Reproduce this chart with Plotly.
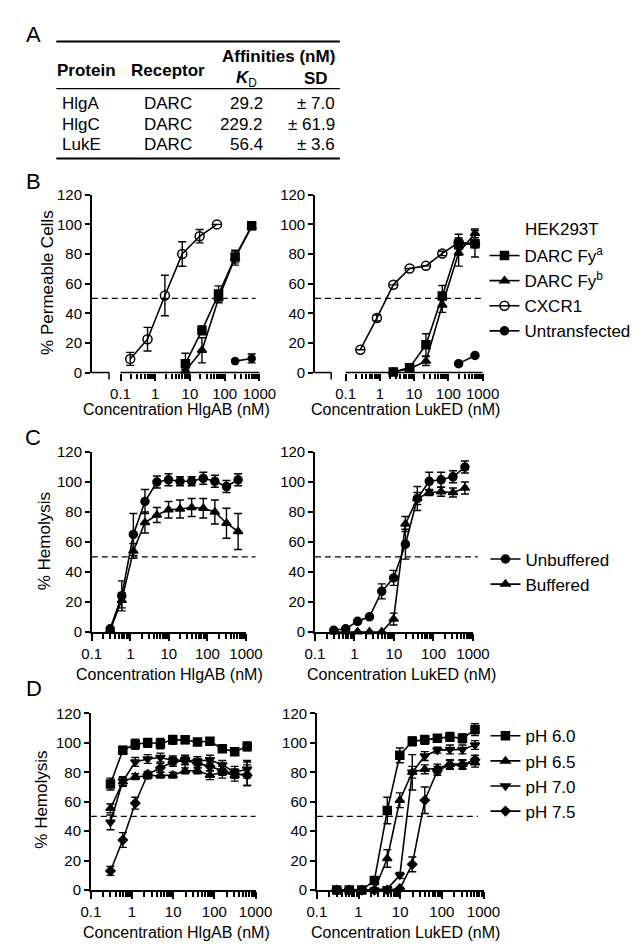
import plotly.graph_objects as go

W, H = 641, 951
FONT = "Liberation Sans, Arial, sans-serif"

# ---------------- Data ----------------
# Panel A table
table_protein = ["HlgA", "HlgC", "LukE"]
table_receptor = ["DARC", "DARC", "DARC"]
table_kd = ["29.2", "229.2", "56.4"]
table_sd = ["± 7.0", "± 61.9", "± 3.6"]

# Panel B left: HlgAB, % permeable cells
b_conc_darc = [7.4, 22.2, 66.7, 200, 600]
b_hlg_fya = [6, 28.5, 53, 78, 99]
b_hlg_fya_err = [7, 3, 5.5, 4, 2]
b_hlg_fyb = [1, 15, 50, 77.5, 98.5]
b_hlg_fyb_err = [1, 8.5, 3, 5, 2]
b_conc_cxcr1 = [0.19, 0.6, 1.9, 6, 19, 60]
b_hlg_cxcr1 = [9.2, 22.5, 52, 80, 92, 100]
b_hlg_cxcr1_err = [4.4, 8, 13.7, 8.3, 4.5, 0]
b_conc_untr = [200, 600]
b_hlg_untr = [7.7, 9.5]
b_hlg_untr_err = [1, 3]

# Panel B right: LukED, % permeable cells
b_conc_luk = [0.27, 0.82, 2.47, 7.4, 22.2, 66.7, 200, 600]
b_luk_cxcr1 = [15.4, 36.8, 59.2, 70.2, 72, 80.4, 87.8, 87]
b_luk_cxcr1_err = [0, 2, 0, 0, 0, 1.5, 3, 0]
b_conc_luk_darc = [2.47, 7.4, 22.2, 66.7, 200, 600]
b_luk_fya = [0.4, 3.3, 18.7, 51.7, 86.3, 87]
b_luk_fya_err = [0, 1, 7.5, 7, 7, 9]
b_luk_fyb = [0.3, 2.6, 7.7, 45.6, 80.8, 94]
b_luk_fyb_err = [0, 1, 3, 5, 9, 3]
b_luk_untr = [6, 11.5]

# Panel C: % hemolysis, unbuffered vs buffered
c_conc = [0.3, 0.6, 1.2, 2.4, 4.9, 9.8, 19.5, 39, 78, 156, 312, 625]
c_hlg_unbuf = [2, 24, 65, 87, 100, 101.5, 100.5, 100.5, 102.5, 100.5, 97, 101.5]
c_hlg_unbuf_err = [1, 10, 14, 8, 4, 4, 3, 3, 4, 4, 4, 4]
c_hlg_buf = [1, 21, 54, 73, 78, 81.5, 82, 83, 82.5, 80, 72.5, 67]
c_hlg_buf_err = [1, 5, 5, 7, 5, 5.5, 6, 6, 6.5, 8, 10, 12]
c_luk_unbuf = [1, 2, 7, 10, 27, 36, 58.5, 89, 100.5, 101.5, 103.5, 110]
c_luk_unbuf_err = [0, 0.5, 1, 1, 5, 5, 10, 8, 6, 5, 4, 4]
c_luk_buf = [0, 0, 0, 0, 0, 8.5, 72, 89, 93, 93.5, 93, 96]
c_luk_buf_err = [0, 0, 0, 0, 0, 4, 5, 4, 2, 3, 3, 4]

# Panel D: % hemolysis at different pH
d_conc = [0.3, 0.6, 1.2, 2.4, 4.9, 9.8, 19.5, 39, 78, 156, 312, 625]
d_hlg_ph60 = [72, 95, 99, 100, 99.5, 102, 102, 100.5, 101, 96, 94, 97.5]
d_hlg_ph60_err = [4, 2.5, 3.5, 3, 3.5, 3, 2.5, 2, 2, 2.5, 2, 3]
d_hlg_ph65 = [55.5, 73.5, 77, 77.5, 78, 78, 81, 81, 78, 80, 78, 79]
d_hlg_ph65_err = [3, 3, 2, 2, 2, 2, 2, 2, 3, 4, 4, 8]
d_hlg_ph70 = [46, 74, 87, 89, 90, 88, 88.5, 87.5, 88.5, 85, 80, 82]
d_hlg_ph70_err = [5, 3, 3, 3, 3, 3, 3, 3, 3, 3, 4, 6]
d_hlg_ph75 = [13, 34, 59, 78.5, 83, 87, 88, 86, 84, 81, 79, 78]
d_hlg_ph75_err = [3, 5, 4, 2, 3, 3, 3, 3, 3, 3, 3, 7]
d_luk_ph60 = [0, 0, 0, 6.6, 54, 91.5, 101, 102, 103, 104, 103, 109]
d_luk_ph60_err = [0, 0, 0, 1, 9, 5, 3, 3, 2, 3, 3, 4]
d_luk_ph65 = [0, 0, 0, 0, 21.5, 61, 80, 82, 82.5, 85.5, 85.5, 86.5]
d_luk_ph65_err = [0, 0, 0, 0, 6, 5, 4, 3, 3, 3, 3, 3]
d_luk_ph70 = [0, 0, 0, 0, 1, 10, 80, 91, 95, 95.5, 95.5, 98.5]
d_luk_ph70_err = [0, 0, 0, 0, 0, 2, 12, 3, 2, 3, 3, 3]
d_luk_ph75 = [0, 0, 0, 0, 0, 1, 17.5, 61, 81, 85, 85, 88.5]
d_luk_ph75_err = [0, 0, 0, 0, 0, 0, 5, 9, 3, 3, 3, 3]

x_tick_vals = [0.1, 1, 10, 100, 1000]
x_tick_text = ["0.1", "1", "10", "100", "1000"]
y_tick_vals = [0, 20, 40, 60, 80, 100, 120]

# ---------------- Helpers ----------------
def px(x):
    return x / W

def py(y):
    return 1 - y / H

fig = go.Figure()

def add(n, x, y, err, sym, size, name=None, legend=None, show=False):
    sfx = "" if n == 1 else str(n)
    fig.add_trace(go.Scatter(
        x=x, y=y, mode="lines+markers",
        name=name, showlegend=show,
        legend=legend,
        xaxis="x" + sfx, yaxis="y" + sfx,
        line=dict(color="black", width=1.6),
        marker=dict(symbol=sym, size=size, color="black",
                    line=dict(color="black", width=1.5)),
        error_y=(dict(type="data", array=err, color="black", thickness=1.4, width=4)
                 if err is not None else None),
        cliponaxis=False,
    ))

# Panel B
add(1, b_conc_cxcr1, b_hlg_cxcr1, b_hlg_cxcr1_err, "circle-open", 9)
add(1, b_conc_darc, b_hlg_fyb, b_hlg_fyb_err, "triangle-up", 8)
add(1, b_conc_darc, b_hlg_fya, b_hlg_fya_err, "square", 8)
add(1, b_conc_untr, b_hlg_untr, b_hlg_untr_err, "circle", 7)

add(2, b_conc_luk_darc, b_luk_fya, b_luk_fya_err, "square", 8,
    "DARC Fy<sup>a</sup>", "legend", True)
add(2, b_conc_luk_darc, b_luk_fyb, b_luk_fyb_err, "triangle-up", 8,
    "DARC Fy<sup>b</sup>", "legend", True)
add(2, b_conc_luk, b_luk_cxcr1, b_luk_cxcr1_err, "circle-open", 9,
    "CXCR1", "legend", True)
add(2, b_conc_untr, b_luk_untr, None, "circle", 8,
    "Untransfected", "legend", True)

# Panel C
add(3, c_conc, c_hlg_unbuf, c_hlg_unbuf_err, "circle", 8)
add(3, c_conc, c_hlg_buf, c_hlg_buf_err, "triangle-up", 8)
add(4, c_conc, c_luk_unbuf, c_luk_unbuf_err, "circle", 8, "Unbuffered", "legend2", True)
add(4, c_conc, c_luk_buf, c_luk_buf_err, "triangle-up", 8, "Buffered", "legend2", True)

# Panel D
add(5, d_conc, d_hlg_ph60, d_hlg_ph60_err, "square", 8)
add(5, d_conc, d_hlg_ph65, d_hlg_ph65_err, "triangle-up", 8)
add(5, d_conc, d_hlg_ph70, d_hlg_ph70_err, "triangle-down", 8)
add(5, d_conc, d_hlg_ph75, d_hlg_ph75_err, "diamond", 7)
add(6, d_conc, d_luk_ph60, d_luk_ph60_err, "square", 8, "pH 6.0", "legend3", True)
add(6, d_conc, d_luk_ph65, d_luk_ph65_err, "triangle-up", 8, "pH 6.5", "legend3", True)
add(6, d_conc, d_luk_ph70, d_luk_ph70_err, "triangle-down", 8, "pH 7.0", "legend3", True)
add(6, d_conc, d_luk_ph75, d_luk_ph75_err, "diamond", 7, "pH 7.5", "legend3", True)

# invisible copies so the minor-tick overlay axes get drawn
anchor_series = [
    (b_conc_darc, b_hlg_fya), (b_conc_luk_darc, b_luk_fya),
    (c_conc, c_hlg_unbuf), (c_conc, c_luk_unbuf),
    (d_conc, d_hlg_ph60), (d_conc, d_luk_ph60),
]
for i, (xs, ys) in enumerate(anchor_series):
    n = i + 1
    sfx = "" if n == 1 else str(n)
    fig.add_trace(go.Scatter(
        x=xs, y=ys, mode="markers", marker=dict(opacity=0, size=1),
        xaxis="x%d" % (6 + n), yaxis="y" + sfx, showlegend=False,
        hoverinfo="skip"))

# ---------------- Axes ----------------
# n, x px domain, y px domain (top, bottom), log x min, dashed end (domain frac), break (seg1 end, seg2 start)
panels = [
    (1, (77, 252), (181, 362), -1.828, 0.977, (0.103, 0.171)),
    (2, (310, 485), (181, 362), -1.895, 1.0, (0.097, 0.183)),
    (3, (77, 238), (443, 626), -1.0, 1.062, None),
    (4, (310, 475), (443, 626), -1.0, 1.03, None),
    (5, (76, 248), (709, 889), -1.0, 1.0, None),
    (6, (312, 486), (709, 889), -1.0, 0.966, None),
]
minor_vals = [m * 10 ** e for e in range(-1, 3) for m in range(2, 10)]
minor_style = dict(tickmode="array", tickvals=minor_vals, ticks="outside",
                   ticklen=5, tickwidth=1.5, tickcolor="black", showgrid=False)
shapes = []
layout = {}
for n, (xa, xb), (yt, yb), xmin, dash_end, brk in panels:
    sfx = "" if n == 1 else str(n)
    layout["xaxis" + sfx] = dict(
        domain=[px(xa), px(xb)], anchor="y" + sfx, type="log",
        range=[xmin, 3.0], tickmode="array", tickvals=x_tick_vals, ticktext=x_tick_text,
        ticks="outside", ticklen=7, tickwidth=1.5, tickcolor="black",
        showline=(brk is None), linecolor="black", linewidth=1.5,
        showgrid=False, zeroline=False,
        tickfont=dict(size=15, color="black", family=FONT),
        minor=minor_style,
    )
    # overlay axis carrying the short minor ticks
    m = 6 + n
    layout["xaxis%d" % m] = dict(
        domain=[px(xa), px(xb)], anchor="y" + sfx, overlaying="x" + sfx,
        type="log", range=[xmin, 3.0], autorange=False,
        tickmode="array", tickvals=minor_vals, showticklabels=False,
        ticks="outside", ticklen=5, tickwidth=1.5, tickcolor="black",
        showline=False, showgrid=False, zeroline=False,
    )
    layout["yaxis" + sfx] = dict(
        domain=[py(yb), py(yt)], anchor="x" + sfx, range=[0, 120],
        tickmode="array", tickvals=y_tick_vals,
        ticks="outside", ticklen=5, tickwidth=1.5, tickcolor="black",
        showline=True, linecolor="black", linewidth=1.5,
        showgrid=False, zeroline=False,
        tickfont=dict(size=15, color="black", family=FONT),
    )
    xd = ("x" if n == 1 else "x" + str(n)) + " domain"
    yr = "y" + sfx
    shapes.append(dict(type="line", xref=xd, yref=yr, x0=0, x1=dash_end, y0=50, y1=50,
                       line=dict(color="black", width=1.3, dash="6px,4px")))
    if brk is not None:
        shapes.append(dict(type="line", xref=xd, yref="paper", x0=0, x1=brk[0],
                           y0=py(yb), y1=py(yb), line=dict(color="black", width=1.5)))
        shapes.append(dict(type="line", xref=xd, yref="paper", x0=brk[1], x1=1,
                           y0=py(yb), y1=py(yb), line=dict(color="black", width=1.5)))
        shapes.append(dict(type="line", xref=xd, yref="paper", x0=brk[0], x1=brk[0],
                           y0=py(yb), y1=py(yb + 7), line=dict(color="black", width=1.5)))

# Table lines (panel A)
for y, w in [(25, 2), (73, 1.3), (144, 2)]:
    shapes.append(dict(type="line", xref="paper", yref="paper",
                       x0=px(40), x1=px(336), y0=py(y), y1=py(y),
                       line=dict(color="black", width=w)))

annotations = []

def text(t, x, y, size=16, anchor="center", angle=0, bold=False):
    annotations.append(dict(
        text=("<b>%s</b>" % t) if bold else t, x=px(x), y=py(y),
        xref="paper", yref="paper", xanchor=anchor, yanchor="middle",
        showarrow=False, textangle=angle,
        font=dict(size=size, color="black", family=FONT)))

# Panel letters
text("A", 16, 18, 22)
text("B", 16, 168, 22)
text("C", 16, 428, 22)
text("D", 17, 684, 22)

# Table A
text("Affinities (nM)", 333, 40, 17, "right", bold=True)
text("Protein", 72, 54, 17, bold=True)
text("Receptor", 157, 54, 17, bold=True)
text("<b><i>K</i></b><sub>D</sub>", 252, 63, 17, "right")
text("SD", 326, 63, 17, "right", bold=True)
for i, yy in enumerate([88, 109, 130]):
    text(table_protein[i], 66, yy, 17)
    text(table_receptor[i], 157, yy, 17)
    text(table_kd[i], 258, yy, 17, "right")
    text(table_sd[i], 333, yy, 17, "right")

# Axis titles
text("% Permeable Cells", 30, 270, 17, angle=-90)
text("% Hemolysis", 28, 534, 17, angle=-90)
text("% Hemolysis", 25, 797, 17, angle=-90)
text("Concentration HlgAB (nM)", 165, 400, 16)
text("Concentration LukED (nM)", 405, 400, 16)
text("Concentration HlgAB (nM)", 158, 669, 16)
text("Concentration LukED (nM)", 400, 669, 16)
text("Concentration HlgAB (nM)", 165, 932, 16)
text("Concentration LukED (nM)", 405, 932, 16)

# Legend title for B
text("HEK293T", 527, 216, 17, "left")

leg = dict(xanchor="left", yanchor="top", bgcolor="rgba(0,0,0,0)",
           font=dict(size=17, color="black", family=FONT), itemwidth=30,
           tracegroupgap=0)
layout["legend"] = dict(leg, x=px(487), y=py(225))
layout["legend2"] = dict(leg, x=px(488), y=py(534))
layout["legend3"] = dict(leg, x=px(488), y=py(714))

fig.update_layout(
    width=W, height=H, margin=dict(l=0, r=0, t=0, b=0),
    paper_bgcolor="white", plot_bgcolor="white",
    font=dict(family=FONT, color="black"),
    shapes=shapes, annotations=annotations, showlegend=True,
    **layout,
)

fig.write_html("out.html")
